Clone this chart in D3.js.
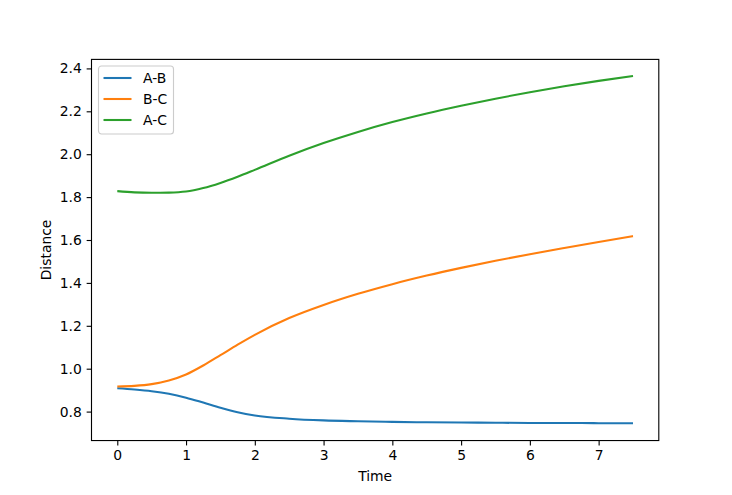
<!DOCTYPE html>
<html lang="en">
<head>
<meta charset="utf-8">
<title>Distance vs Time</title>
<script src="https://d3js.org/d3.v7.min.js"></script>
<style>
  body { margin: 0; background: #fff; }
  svg text { font-family: "DejaVu Sans", sans-serif; }
</style>
</head>
<body>
<script>
// data
const time = [0, 0.25, 0.5, 0.75, 1, 1.25, 1.5, 1.75, 2, 2.5, 3, 3.5, 4, 4.5, 5, 5.5, 6, 6.5, 7, 7.5];
const ab = [0.909, 0.903, 0.895, 0.883, 0.865, 0.842, 0.818, 0.797, 0.782, 0.767, 0.759, 0.755, 0.752, 0.750, 0.749, 0.748, 0.747, 0.747, 0.746, 0.746];
const bc = [0.917, 0.920, 0.928, 0.945, 0.973, 1.015, 1.063, 1.112, 1.158, 1.236, 1.297, 1.349, 1.394, 1.434, 1.470, 1.503, 1.534, 1.563, 1.591, 1.618];
const ac = [1.828, 1.822, 1.820, 1.821, 1.826, 1.842, 1.866, 1.895, 1.927, 1.993, 2.052, 2.104, 2.150, 2.190, 2.226, 2.259, 2.289, 2.317, 2.342, 2.365];
const names = ["A-B", "B-C", "A-C"];
const colors = ["#1f77b4", "#ff7f0e", "#2ca02c"];
const xTicks = [0, 1, 2, 3, 4, 5, 6, 7];
const yTicks = [0.8, 1.0, 1.2, 1.4, 1.6, 1.8, 2.0, 2.2, 2.4];

const width = 732, height = 495;
const mLeft = 91.5, mRight = 658.8, mTop = 59.4, mBottom = 440.55;

const svg = d3.select("body").append("svg")
  .attr("width", width).attr("height", height);

const x = d3.scaleLinear().domain([-0.375, 7.875]).range([mLeft, mRight]);
const y = d3.scaleLinear().domain([0.665, 2.442]).range([mBottom, mTop]);

// lines
const series = [ab, bc, ac];
const line = d3.line()
  .x((d, i) => x(time[i]))
  .y(d => y(d))
  .curve(d3.curveMonotoneX);

svg.append("g").selectAll("path")
  .data(series)
  .join("path")
  .attr("d", line)
  .attr("fill", "none")
  .attr("stroke", (d, i) => colors[i])
  .attr("stroke-width", 2.08);

// axes
const xAxis = svg.append("g")
  .attr("transform", `translate(0,${mBottom})`)
  .call(d3.axisBottom(x).tickValues(xTicks).tickFormat(d3.format("d")).tickSize(4.86).tickPadding(4.9));
const yAxis = svg.append("g")
  .attr("transform", `translate(${mLeft},0)`)
  .call(d3.axisLeft(y).tickValues(yTicks).tickFormat(d3.format(".1f")).tickSize(4.86).tickPadding(4.9));

[xAxis, yAxis].forEach(a => {
  a.select(".domain").remove();
  a.selectAll("line").attr("stroke", "#000").attr("stroke-width", 1.11);
  a.selectAll("text").attr("font-size", 13.9).attr("fill", "#000")
    .attr("font-family", "DejaVu Sans, sans-serif");
});

// spines
svg.append("rect")
  .attr("x", mLeft).attr("y", mTop)
  .attr("width", mRight - mLeft).attr("height", mBottom - mTop)
  .attr("fill", "none").attr("stroke", "#000").attr("stroke-width", 1.11);

// axis labels
svg.append("text")
  .attr("x", (mLeft + mRight) / 2).attr("y", 481)
  .attr("text-anchor", "middle").attr("font-size", 13.9)
  .text("Time");
svg.append("text")
  .attr("transform", `translate(51,${(mTop + mBottom) / 2}) rotate(-90)`)
  .attr("text-anchor", "middle").attr("font-size", 13.9)
  .text("Distance");

// legend
const lg = svg.append("g").attr("transform", "translate(98.5,66)");
lg.append("rect")
  .attr("width", 75).attr("height", 68).attr("rx", 3)
  .attr("fill", "#fff").attr("fill-opacity", 0.8)
  .attr("stroke", "#cccccc").attr("stroke-width", 1.11);
names.forEach((n, i) => {
  const yy = 12 + i * 21;
  lg.append("line")
    .attr("x1", 5).attr("x2", 33).attr("y1", yy).attr("y2", yy)
    .attr("stroke", colors[i]).attr("stroke-width", 2.08);
  lg.append("text")
    .attr("x", 44.5).attr("y", yy + 5)
    .attr("font-size", 13.9)
    .text(n);
});
</script>
</body>
</html>
